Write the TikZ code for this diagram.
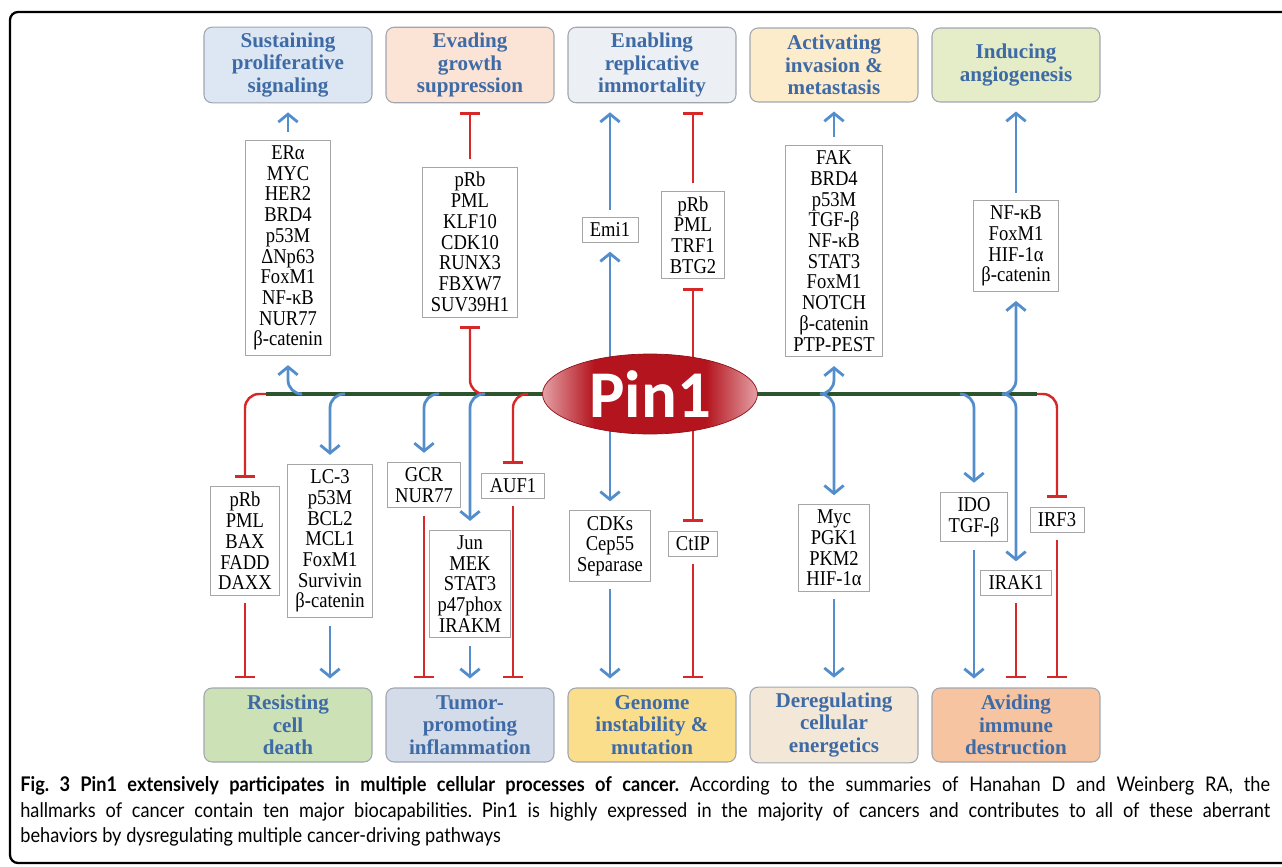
\documentclass[tikz,border=0pt]{standalone}
\usepackage{fontspec}
\setmainfont{Liberation Serif}[FakeStretch=0.88]
\newfontfamily\headfont{Liberation Serif}
\newfontfamily\pinfont{Carlito}
\newfontfamily\capfont{Lato}[FakeStretch=0.9]
\usetikzlibrary{arrows.meta,shapes.geometric}

\definecolor{actblue}{RGB}{84,141,204}
\definecolor{inhred}{RGB}{214,40,40}
\definecolor{trunkgreen}{RGB}{45,85,45}
\definecolor{headblue}{RGB}{62,106,165}
\definecolor{hallline}{RGB}{160,166,176}
\definecolor{pinred}{RGB}{180,20,30}
\definecolor{pinpale}{RGB}{228,160,165}
\definecolor{fsust}{RGB}{220,231,243}
\definecolor{fevad}{RGB}{251,228,214}
\definecolor{fenab}{RGB}{236,239,243}
\definecolor{factv}{RGB}{253,236,203}
\definecolor{findu}{RGB}{228,237,199}
\definecolor{fresi}{RGB}{205,225,183}
\definecolor{ftumo}{RGB}{213,220,233}
\definecolor{fgeno}{RGB}{250,222,140}
\definecolor{fdere}{RGB}{243,232,216}
\definecolor{favoi}{RGB}{246,196,160}
\pgfdeclarehorizontalshading{pinshade}{100bp}{color(0bp)=(pinpale); color(25bp)=(pinpale); color(37bp)=(pinred); color(63bp)=(pinred); color(75bp)=(pinpale); color(100bp)=(pinpale)}

\begin{document}
\frenchspacing
\begin{tikzpicture}[x=0.02cm,y=-0.02cm,
	hall/.style={draw=hallline, line width=0.6pt, rounded corners=0.16cm, minimum width=3.36cm, minimum height=1.48cm, align=center, text=headblue, font=\headfont\bfseries\fontsize{12}{12.7}\selectfont},
	gene/.style={draw=gray!70, line width=0.5pt, fill=white, align=center, inner xsep=4.5pt, inner ysep=3pt, font=\fontsize{12}{11.8}\selectfont},
	act/.style={actblue, line width=1.6pt, rounded corners=0.28cm, shorten >=0.18cm, -{Straight Barb[length=4.5pt,width=11pt]}},
	inh/.style={inhred, line width=1.4pt, rounded corners=0.28cm, shorten >=0.18cm, -{Bar[width=11pt,line width=1.6pt]}},
	gap/.style={shorten <=0.15cm}]
				\useasboundingbox (0,0) rectangle (1282,866);
				\draw[line width=1.3pt, rounded corners=0.16cm] (1300,12) -- (10,12) -- (10,863) -- (1300,863);
				\node[hall, fill=fsust] (sust) at (288,65) {Sustaining\\proliferative\\signaling};
				\node[hall, fill=fevad] (evad) at (470,65) {Evading\\growth\\suppression};
				\node[hall, fill=fenab] (enab) at (652,65) {Enabling\\replicative\\immortality};
				\node[hall, fill=factv] (actv) at (834,65) {Activating\\invasion \&\\metastasis};
				\node[hall, fill=findu] (indu) at (1016,65) {Inducing\\angiogenesis};
				\node[hall, fill=fresi] (resi) at (288,725) {Resisting\\cell\\death};
				\node[hall, fill=ftumo] (tumo) at (470,725) {Tumor-\\promoting\\inflammation};
				\node[hall, fill=fgeno] (geno) at (652,725) {Genome\\instability \&\\mutation};
				\node[hall, fill=fdere] (dere) at (834,725) {Deregulating\\cellular\\energetics};
				\node[hall, fill=favoi] (avoi) at (1016,725) {Aviding\\immune\\destruction};
				\node[gene] (erA) at (288,248) {ERα\\MYC\\HER2\\BRD4\\p53M\\ΔNp63\\FoxM1\\NF-κB\\NUR77\\β-catenin};
				\node[gene] (evd) at (470,242) {pRb\\PML\\KLF10\\CDK10\\RUNX3\\FBXW7\\SUV39H1};
				\node[gene] (emi) at (610,230) {Emi1};
				\node[gene] (trf) at (693,235) {pRb\\PML\\TRF1\\BTG2};
				\node[gene] (fak) at (834,251) {FAK\\BRD4\\p53M\\TGF-β\\NF-κB\\STAT3\\FoxM1\\NOTCH\\β-catenin\\PTP-PEST};
				\node[gene] (nfk) at (1016,246) {NF-κB\\FoxM1\\HIF-1α\\β-catenin};
				\node[gene] (prb) at (245,541) {pRb\\PML\\BAX\\FADD\\DAXX};
				\node[gene] (lc3) at (330,541) {LC-3\\p53M\\BCL2\\MCL1\\FoxM1\\Survivin\\β-catenin};
				\node[gene] (gcr) at (424,485) {GCR\\NUR77};
				\node[gene] (jun) at (470,584) {Jun\\MEK\\STAT3\\p47phox\\IRAKM};
				\node[gene] (auf) at (513,486) {AUF1};
				\node[gene] (cdk) at (610,546) {CDKs\\Cep55\\Separase};
				\node[gene] (ctip) at (693,544) {CtIP};
				\node[gene] (myc) at (834,548) {Myc\\PGK1\\PKM2\\HIF-1α};
				\node[gene] (ido) at (974,517) {IDO\\TGF-β};
				\node[gene] (irak) at (1016,583) {IRAK1};
				\node[gene] (irf) at (1057,520) {IRF3};
				\coordinate (pc) at (650,394);
				\coordinate (tl) at (266,394);
				\coordinate (tr) at (1037,394);
				\foreach \n/\x in {t1/302,t2/345,t3/439,t4/485,t5/528,t6/820,t7/960,t8/1002}
					\coordinate (\n) at (\x,394);
				\draw[trunkgreen, line width=1.8pt] (tl) -- (tr);
				\draw[inh] (tl) -| (prb.north);
				\draw[inh] (tr) -| (irf.north);
				\draw[act] (t1) -| (erA.south);
				\draw[act] (t2) -| (lc3.north);
				\draw[act] (t3) -| (gcr.north);
				\draw[inh] (t4) -| (evd.south);
				\draw[act] (t4) -| (jun.north);
				\draw[inh] (t5) -| (auf.north);
				\draw[act] (t6) -| (fak.south);
				\draw[act] (t6) -| (myc.north);
				\draw[act] (t7) -| (ido.north);
				\draw[act] (t8) -| (nfk.south);
				\draw[act] (t8) -| (irak.north);
				\draw[act] (emi.south |- pc) -- (emi.south);
				\draw[inh] (trf.south |- pc) -- (trf.south);
				\draw[act] (cdk.north |- pc) -- (cdk.north);
				\draw[inh] (ctip.north |- pc) -- (ctip.north);
				\node[ellipse, minimum width=4.3cm, minimum height=1.6cm, inner sep=0pt, shading=pinshade, draw=pinred!80!black, line width=0.4pt, text=white, font=\pinfont\bfseries\fontsize{38}{38}\selectfont] (pin) at (pc) {Pin1};
				\draw[act,gap] (erA.north) -- (erA.north |- sust.south);
				\draw[inh,gap] (evd.north) -- (evd.north |- evad.south);
				\draw[act,gap] (emi.north) -- (emi.north |- enab.south);
				\draw[inh,gap] (trf.north) -- (trf.north |- enab.south);
				\draw[act,gap] (fak.north) -- (fak.north |- actv.south);
				\draw[act,gap] (nfk.north) -- (nfk.north |- indu.south);
				\draw[inh,gap] (prb.south) -- (prb.south |- resi.north);
				\draw[act,gap] (lc3.south) -- (lc3.south |- resi.north);
				\draw[inh,gap] (gcr.south) -- (gcr.south |- tumo.north);
				\draw[act,gap] (jun.south) -- (jun.south |- tumo.north);
				\draw[inh,gap] (auf.south) -- (auf.south |- tumo.north);
				\draw[act,gap] (cdk.south) -- (cdk.south |- geno.north);
				\draw[inh,gap] (ctip.south) -- (ctip.south |- geno.north);
				\draw[act,gap] (myc.south) -- (myc.south |- dere.north);
				\draw[act,gap] (ido.south) -- (ido.south |- avoi.north);
				\draw[inh,gap] (irak.south) -- (irak.south |- avoi.north);
				\draw[inh,gap] (irf.south) -- (irf.south |- avoi.north);
				\node[anchor=north west, inner sep=0pt, text width=25cm, align=justify, font=\capfont\fontsize{11.5}{14.6}\selectfont] (cap) at (20,776) {\textbf{Fig. 3 Pin1 extensively participates in multiple cellular processes of cancer.} According to the summaries of Hanahan D and Weinberg RA, the\linebreak hallmarks of cancer contain ten major biocapabilities. Pin1 is highly expressed in the majority of cancers and contributes to all of these aberrant\linebreak behaviors by dysregulating multiple cancer-driving pathways};
			\end{tikzpicture}
\end{document}
